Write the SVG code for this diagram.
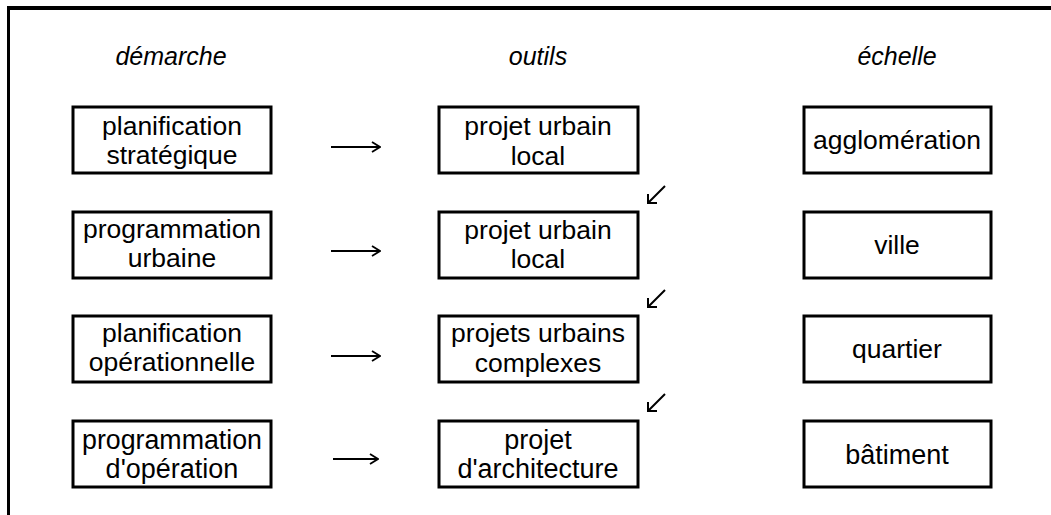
<svg xmlns="http://www.w3.org/2000/svg" width="1051" height="515" viewBox="0 0 1051 515">
<style>
.frame{stroke:#000;fill:none}
.box{fill:#fff;stroke:#000;stroke-width:3}
.t{font-family:"Liberation Sans",Arial,sans-serif;font-size:26.5px;fill:#000;text-anchor:middle}
.h{font-style:italic;font-size:25px}
.c{font-size:27px}
.arr{stroke:#000;stroke-width:2;fill:none}
</style>
<defs>
<marker id="ah" viewBox="0 0 12 12" refX="11" refY="6" markerWidth="12" markerHeight="12" markerUnits="userSpaceOnUse" orient="auto">
<path d="M3,1 L11,6 L3,11" fill="none" stroke="#000" stroke-width="1.8"/>
</marker>
</defs>
<rect width="1051" height="515" fill="#fff"/>
<g id="frame">
<line class="frame" x1="7" y1="8" x2="1051" y2="8" stroke-width="4"/>
<line class="frame" x1="8.5" y1="6" x2="8.5" y2="515" stroke-width="3"/>
</g>
<g id="headers">
<text class="t h" x="171" y="65">démarche</text>
<text class="t h" x="538" y="65">outils</text>
<text class="t h" x="897" y="65">échelle</text>
</g>
<g id="n-planif-strat"><rect class="box" x="73" y="107" width="198" height="66"/><text class="t" x="172" y="135">planification</text><text class="t" x="172" y="164">stratégique</text></g>
<g id="n-projet-local-1"><rect class="box" x="439" y="107" width="199" height="66"/><text class="t" x="538" y="135">projet urbain</text><text class="t" x="538" y="165">local</text></g>
<g id="n-agglo"><rect class="box" x="804" y="107" width="187" height="66"/><text class="t" x="897" y="149">agglomération</text></g>

<g id="n-prog-urb"><rect class="box" x="73" y="212" width="198" height="66"/><text class="t" x="172" y="238">programmation</text><text class="t" x="172" y="267">urbaine</text></g>
<g id="n-projet-local-2"><rect class="box" x="439" y="212" width="199" height="66"/><text class="t" x="538" y="239">projet urbain</text><text class="t" x="538" y="268">local</text></g>
<g id="n-ville"><rect class="box" x="804" y="212" width="187" height="66"/><text class="t" x="897" y="254">ville</text></g>

<g id="n-planif-op"><rect class="box" x="73" y="316" width="198" height="66"/><text class="t" x="172" y="342">planification</text><text class="t" x="172" y="371">opérationnelle</text></g>
<g id="n-projets-complexes"><rect class="box" x="439" y="316" width="199" height="66"/><text class="t" x="538" y="342">projets urbains</text><text class="t" x="538" y="372">complexes</text></g>
<g id="n-quartier"><rect class="box" x="804" y="316" width="187" height="66"/><text class="t" x="897" y="358">quartier</text></g>

<g id="n-prog-op"><rect class="box" x="73" y="421" width="198" height="66"/><text class="t c" x="172" y="449" textLength="180" lengthAdjust="spacingAndGlyphs">programmation</text><text class="t c" x="172" y="478">d'opération</text></g>
<g id="n-projet-archi"><rect class="box" x="439" y="421" width="199" height="66"/><text class="t c" x="538" y="449">projet</text><text class="t c" x="538" y="478">d'architecture</text></g>
<g id="n-batiment"><rect class="box" x="804" y="421" width="187" height="66"/><text class="t c" x="897" y="464">bâtiment</text></g>

<g id="connectors">
<line class="arr" x1="331" y1="147" x2="380" y2="147" marker-end="url(#ah)"/>
<line class="arr" x1="331" y1="251" x2="380" y2="251" marker-end="url(#ah)"/>
<line class="arr" x1="331" y1="356" x2="380" y2="356" marker-end="url(#ah)"/>
<line class="arr" x1="333" y1="459" x2="378" y2="459" marker-end="url(#ah)"/>
<path class="arr" d="M665,186 L648,203 M648,194 L648,203 L657,203"/>
<path class="arr" d="M665,290 L648,307 M648,298 L648,307 L657,307"/>
<path class="arr" d="M665,394 L648,411 M648,402 L648,411 L657,411"/>
</g>
</svg>
